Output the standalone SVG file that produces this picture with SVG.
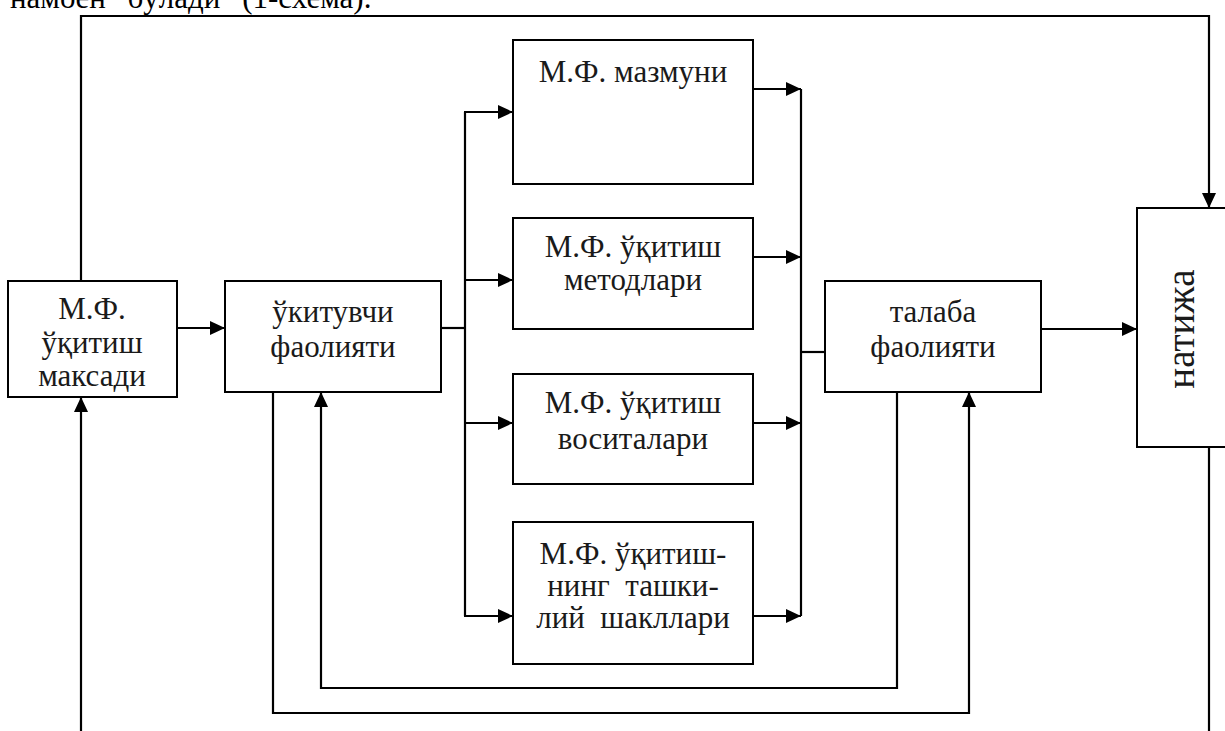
<svg xmlns="http://www.w3.org/2000/svg" width="1225" height="731" viewBox="0 0 1225 731">
<defs>
<marker id="ah" viewBox="0 0 15 14" refX="15" refY="7" markerWidth="15" markerHeight="14" markerUnits="userSpaceOnUse" orient="auto">
<path d="M0,0 L15,7 L0,14 Z" fill="#000"/>
</marker>
<style>
.box{fill:#fff;stroke:#000;stroke-width:2}
.t{font-size:31px;fill:#1a1a1a;text-anchor:middle;white-space:pre}
.ln{fill:none;stroke:#000;stroke-width:2.2}
.ar{fill:none;stroke:#000;stroke-width:2.2;marker-end:url(#ah)}
</style>
</defs>
<rect width="1225" height="731" fill="#fff"/>
<g font-family="Liberation Serif, DejaVu Serif, serif">
<text x="10" y="8" font-size="31" fill="#000" word-spacing="14">намоён бўлади (1-схема).</text>
<g id="connectors">
<polyline class="ar" points="81,281 81,16 1209,16 1209,208"/>
<polyline class="ar" points="81,731 81,397"/>
<line class="ln" x1="1209" y1="447" x2="1209" y2="731"/>
<line class="ar" x1="177" y1="328" x2="225" y2="328"/>
<line class="ln" x1="441" y1="328" x2="465" y2="328"/>
<line class="ln" x1="465" y1="112" x2="465" y2="616"/>
<line class="ar" x1="464" y1="112" x2="513" y2="112"/>
<line class="ar" x1="464" y1="280" x2="513" y2="280"/>
<line class="ar" x1="464" y1="423" x2="513" y2="423"/>
<line class="ar" x1="464" y1="616" x2="513" y2="616"/>
<line class="ar" x1="753" y1="89" x2="801" y2="89"/>
<line class="ar" x1="753" y1="257" x2="801" y2="257"/>
<line class="ar" x1="753" y1="423" x2="801" y2="423"/>
<line class="ar" x1="753" y1="616" x2="801" y2="616"/>
<line class="ln" x1="801" y1="89" x2="801" y2="616"/>
<line class="ln" x1="801" y1="352" x2="825" y2="352"/>
<line class="ar" x1="1041" y1="329" x2="1137" y2="329"/>
<polyline class="ar" points="897,392 897,688 321,688 321,392"/>
<polyline class="ar" points="273,392 273,713 969,713 969,392"/>
</g>
<g id="maqsad">
<rect class="box" x="8" y="281" width="169" height="116"/>
<text class="t" x="92" y="319">М.Ф.</text>
<text class="t" x="92" y="353">ўқитиш</text>
<text class="t" x="92" y="386">максади</text>
</g>
<g id="oqituvchi">
<rect class="box" x="225" y="281" width="216" height="111"/>
<text class="t" x="333" y="322">ўкитувчи</text>
<text class="t" x="333" y="357">фаолияти</text>
</g>
<g id="mazmun">
<rect class="box" x="513" y="40" width="240" height="144"/>
<text class="t" x="633" y="82">М.Ф. мазмуни</text>
</g>
<g id="metodlar">
<rect class="box" x="513" y="218" width="240" height="111"/>
<text class="t" x="633" y="257">М.Ф. ўқитиш</text>
<text class="t" x="633" y="290">методлари</text>
</g>
<g id="vositalar">
<rect class="box" x="513" y="374" width="240" height="110"/>
<text class="t" x="633" y="413">М.Ф. ўқитиш</text>
<text class="t" x="633" y="449">воситалари</text>
</g>
<g id="shakllar">
<rect class="box" x="513" y="522" width="240" height="142"/>
<text class="t" x="633" y="564" font-size="30">М.Ф. ўқитиш-</text>
<text class="t" x="633" y="596" font-size="30">нинг  ташки-</text>
<text class="t" x="633" y="628" font-size="30">лий  шакллари</text>
</g>
<g id="talaba">
<rect class="box" x="825" y="281" width="216" height="111"/>
<text class="t" x="933" y="322">талаба</text>
<text class="t" x="933" y="357">фаолияти</text>
</g>
<g id="natija">
<rect class="box" x="1137" y="208" width="100" height="239"/>
<text class="t" x="0" y="0" style="font-size:39px" transform="translate(1194,329) rotate(-90)">натижа</text>
</g>
</g>
</svg>
